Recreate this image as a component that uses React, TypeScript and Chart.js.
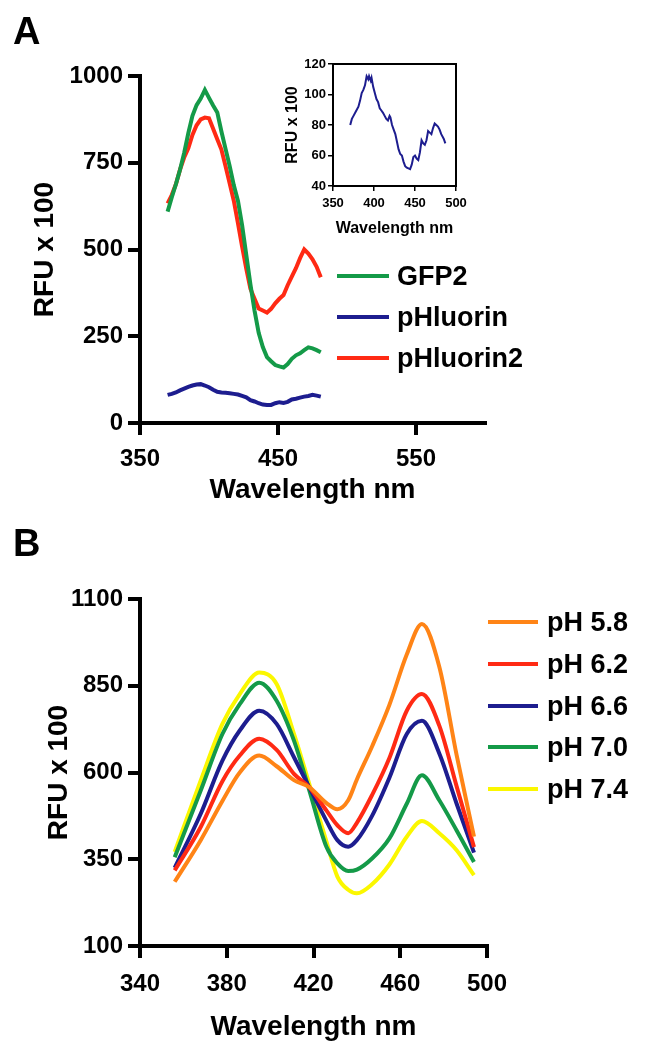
import React, { useEffect, useRef } from "react";
import { Chart, registerables } from "chart.js";
Chart.register(...registerables);

const FONT = "'Liberation Sans', Arial, Helvetica, sans-serif";

// ---------- Panel A: main spectra ----------
const A_WAVELENGTH = [370, 373, 376, 379, 382, 385, 388, 391, 394, 397, 400, 403, 406, 409, 412, 415, 418, 421, 424, 427, 430, 433, 436, 439, 442, 445, 448, 451, 454, 457, 460, 463, 466, 469, 472, 475, 478, 481];
const A_GFP2 = [609, 650, 688, 730, 778, 835, 885, 916, 935, 960, 937, 915, 895, 840, 790, 740, 685, 640, 570, 485, 400, 324, 260, 219, 190, 178, 167, 163, 160, 170, 185, 195, 201, 210, 218, 215, 210, 204];
const A_PHLUORIN = [81, 84, 88, 94, 99, 104, 108, 111, 112, 108, 103, 96, 90, 88, 87, 86, 84, 82, 78, 74, 66, 62, 57, 53, 52, 52, 57, 60, 58, 61, 68, 70, 73, 76, 78, 81, 79, 76];
const A_PHLUORIN2 = [633, 657, 688, 730, 765, 792, 830, 858, 875, 880, 878, 848, 818, 788, 740, 690, 640, 575, 508, 445, 387, 358, 330, 324, 318, 329, 345, 358, 369, 397, 422, 446, 475, 500, 488, 472, 450, 420];
const A_X_TICKS = [350, 450, 550];
const A_Y_TICKS = [0, 250, 500, 750, 1000];
const A_LEGEND = ["GFP2", "pHluorin", "pHluorin2"];

// ---------- Panel A inset: pHluorin ----------
const INSET_WAVELENGTH = [371, 373, 375, 378, 381, 383, 385, 387, 389, 391, 393, 394, 396, 397, 399, 401, 403, 405, 407, 409, 411, 413, 415, 417, 419, 420, 422, 424, 426, 428, 430, 432, 434, 436, 438, 440, 442, 444, 446, 448, 450, 452, 454, 456, 458, 460, 462, 464, 466, 468, 470, 472, 474, 476, 478, 480, 482, 485, 487];
const INSET_PHLUORIN = [80, 84, 86, 89, 92, 96, 101, 103, 106, 112, 110, 112, 109, 111, 105, 101, 97, 95, 91, 89.5, 88, 86, 84, 83, 86, 85, 80, 77, 74, 69, 64, 61, 60, 56, 53, 52, 51.5, 51, 54, 59, 60, 58, 57, 62, 70, 68, 67, 70, 76, 75, 74, 78, 81, 80, 79, 77, 74, 71, 68];
const INSET_X_TICKS = [350, 400, 450, 500];
const INSET_Y_TICKS = [40, 60, 80, 100, 120];

// ---------- Panel B: pH series ----------
const B_WAVELENGTH = [356, 368, 378, 386, 395, 403, 411, 418, 426, 431, 436, 440, 447, 455, 463, 470, 478, 486, 494];
const B_PH58 = [285, 405, 518, 600, 649, 618, 578, 558, 512, 494, 520, 580, 675, 795, 940, 1028, 905, 650, 415];
const B_PH62 = [318, 443, 575, 649, 697, 665, 596, 558, 490, 448, 425, 455, 535, 642, 778, 826, 735, 560, 385];
const B_PH66 = [325, 481, 634, 721, 778, 740, 644, 558, 460, 405, 386, 405, 475, 585, 711, 749, 655, 510, 369];
const B_PH70 = [356, 548, 711, 797, 859, 807, 692, 550, 385, 338, 316, 320, 352, 410, 510, 592, 520, 433, 342];
const B_PH74 = [371, 577, 740, 826, 888, 855, 711, 568, 400, 300, 262, 252, 278, 335, 415, 460, 425, 376, 304];
const B_X_TICKS = [340, 380, 420, 460, 500];
const B_Y_TICKS = [100, 350, 600, 850, 1100];
const B_LEGEND = ["pH 5.8", "pH 6.2", "pH 6.6", "pH 7.0", "pH 7.4"];

const GREEN = "#149a48";
const NAVY = "#1d1d8f";
const RED = "#ff2a14";
const ORANGE = "#ff8416";
const YELLOW = "#fbf700";

const A_COLORS = [GREEN, NAVY, RED];
const B_COLORS = [ORANGE, RED, NAVY, GREEN, YELLOW];

function pts(xs: number[], ys: number[]) {
  return xs.map((x, i) => ({ x, y: ys[i] }));
}

function axis(o: any) {
  return {
    type: "linear",
    min: o.min,
    max: o.max,
    afterBuildTicks: (s: any) => {
      s.ticks = o.ticks.map((v: number) => ({ value: v }));
    },
    afterFit: (s: any) => {
      if (o.horizontal) s.height = o.size;
      else s.width = o.size;
    },
    ticks: {
      font: { size: o.fontSize, weight: "bold", family: FONT },
      color: "#000",
      padding: o.pad,
      autoSkip: false,
      maxRotation: 0,
      minRotation: 0,
      callback: (v: any) => String(v),
    },
    grid: {
      display: true,
      drawOnChartArea: false,
      drawTicks: true,
      tickLength: o.tickLen,
      tickWidth: o.tickWidth,
      tickColor: "#000",
      color: "#000",
      lineWidth: o.tickWidth,
    },
    border: { display: true, color: "#000", width: o.borderWidth },
    title: {
      display: true,
      text: o.title,
      color: "#000",
      font: { size: o.titleSize, weight: "bold", family: FONT },
      padding: o.horizontal ? { top: 0, bottom: o.titlePad } : { top: o.titlePad, bottom: 0 },
    },
  };
}

const boxPlugin = {
  id: "insetBox",
  afterDraw(chart: any) {
    const { ctx, chartArea: a } = chart;
    ctx.save();
    ctx.strokeStyle = "#000";
    ctx.lineWidth = 2;
    ctx.strokeRect(a.left, a.top, a.right - a.left, a.bottom - a.top);
    ctx.restore();
  },
};

function ChartBox(props: { left: number; top: number; width: number; height: number; make: () => any }) {
  const ref = useRef<HTMLCanvasElement>(null);
  useEffect(() => {
    const chart = new Chart(ref.current as HTMLCanvasElement, props.make());
    return () => chart.destroy();
  }, []);
  return (
    <canvas
      ref={ref}
      width={props.width}
      height={props.height}
      style={{ position: "absolute", left: props.left, top: props.top, width: props.width, height: props.height }}
    />
  );
}

function baseOptions(padding: any) {
  return {
    animation: false,
    responsive: false,
    devicePixelRatio: 1,
    layout: { padding },
    plugins: { legend: { display: false }, tooltip: { enabled: false } },
    elements: { point: { radius: 0 } },
  };
}

function makeA() {
  const series = [A_GFP2, A_PHLUORIN, A_PHLUORIN2];
  return {
    type: "line",
    data: {
      datasets: series.map((s, i) => ({
        label: A_LEGEND[i],
        data: pts(A_WAVELENGTH, s),
        borderColor: A_COLORS[i],
        borderWidth: 4,
        pointRadius: 0,
        tension: 0,
        fill: false,
      })),
    },
    options: {
      ...baseOptions({ top: 76, right: 163, bottom: 0, left: 0 }),
      scales: {
        x: axis({ horizontal: true, min: 350, max: 600, ticks: A_X_TICKS, size: 87, fontSize: 24, pad: 10, tickLen: 12, tickWidth: 4, borderWidth: 4, title: "Wavelength nm", titleSize: 28, titlePad: 3 }),
        y: axis({ horizontal: false, min: 0, max: 1000, ticks: A_Y_TICKS, size: 140, fontSize: 24, pad: 5, tickLen: 12, tickWidth: 4, borderWidth: 4, title: "RFU x 100", titleSize: 28, titlePad: 28 }),
      },
    },
  };
}

function makeInset() {
  return {
    type: "line",
    data: {
      datasets: [
        {
          label: "pHluorin",
          data: pts(INSET_WAVELENGTH, INSET_PHLUORIN),
          borderColor: NAVY,
          borderWidth: 2,
          pointRadius: 0,
          tension: 0,
          fill: false,
        },
      ],
    },
    options: {
      ...baseOptions({ top: 24, right: 18, bottom: 0, left: 0 }),
      scales: {
        x: axis({ horizontal: true, min: 350, max: 500, ticks: INSET_X_TICKS, size: 64, fontSize: 13, pad: 5, tickLen: 5, tickWidth: 1.5, borderWidth: 2, title: "Wavelength nm", titleSize: 16, titlePad: 12 }),
        y: axis({ horizontal: false, min: 40, max: 120, ticks: INSET_Y_TICKS, size: 63, fontSize: 13, pad: 2, tickLen: 5, tickWidth: 1.5, borderWidth: 2, title: "RFU x 100", titleSize: 16, titlePad: 13 }),
      },
    },
    plugins: [boxPlugin],
  };
}

function makeB() {
  const series = [B_PH58, B_PH62, B_PH66, B_PH70, B_PH74];
  return {
    type: "line",
    data: {
      datasets: series.map((s, i) => ({
        label: B_LEGEND[i],
        data: pts(B_WAVELENGTH, s),
        borderColor: B_COLORS[i],
        borderWidth: 4,
        pointRadius: 0,
        cubicInterpolationMode: "monotone",
        fill: false,
      })),
    },
    options: {
      ...baseOptions({ top: 79, right: 161, bottom: 0, left: 0 }),
      scales: {
        x: axis({ horizontal: true, min: 340, max: 500, ticks: B_X_TICKS, size: 104, fontSize: 24, pad: 12, tickLen: 12, tickWidth: 4, borderWidth: 4, title: "Wavelength nm", titleSize: 28, titlePad: 6 }),
        y: axis({ horizontal: false, min: 100, max: 1100, ticks: B_Y_TICKS, size: 140, fontSize: 24, pad: 5, tickLen: 12, tickWidth: 4, borderWidth: 4, title: "RFU x 100", titleSize: 28, titlePad: 42 }),
      },
    },
  };
}

function Legend(props: { labels: string[]; colors: string[]; lineX: number; lineW: number; textX: number; ys: number[]; size: number }) {
  return (
    <>
      {props.labels.map((l, i) => (
        <React.Fragment key={l}>
          <div
            style={{
              position: "absolute",
              left: props.lineX,
              top: props.ys[i] - 2,
              width: props.lineW,
              height: 4,
              background: props.colors[i],
            }}
          />
          <div
            style={{
              position: "absolute",
              left: props.textX,
              top: props.ys[i] - props.size * 0.49,
              fontFamily: FONT,
              fontWeight: "bold",
              fontSize: props.size,
              lineHeight: 1,
              color: "#000",
              whiteSpace: "nowrap",
            }}
          >
            {l}
          </div>
        </React.Fragment>
      ))}
    </>
  );
}

const letterStyle: any = {
  position: "absolute",
  left: 13,
  fontFamily: FONT,
  fontWeight: "bold",
  fontSize: 38,
  lineHeight: 1,
  color: "#000",
};

export default function App() {
  return (
    <div style={{ position: "absolute", left: 0, top: 0, width: 648, height: 1050, background: "#fff", overflow: "hidden" }}>
      <ChartBox left={0} top={0} width={648} height={510} make={makeA} />
      <ChartBox left={270} top={40} width={204} height={210} make={makeInset} />
      <ChartBox left={0} top={520} width={648} height={530} make={makeB} />
      <div style={{ ...letterStyle, top: 12 }}>A</div>
      <div style={{ ...letterStyle, top: 524 }}>B</div>
      <Legend labels={A_LEGEND} colors={A_COLORS} lineX={337} lineW={52} textX={397} ys={[276, 317, 358]} size={27} />
      <Legend labels={B_LEGEND} colors={B_COLORS} lineX={488} lineW={50} textX={547} ys={[622, 664, 706, 747, 789]} size={27} />
    </div>
  );
}
